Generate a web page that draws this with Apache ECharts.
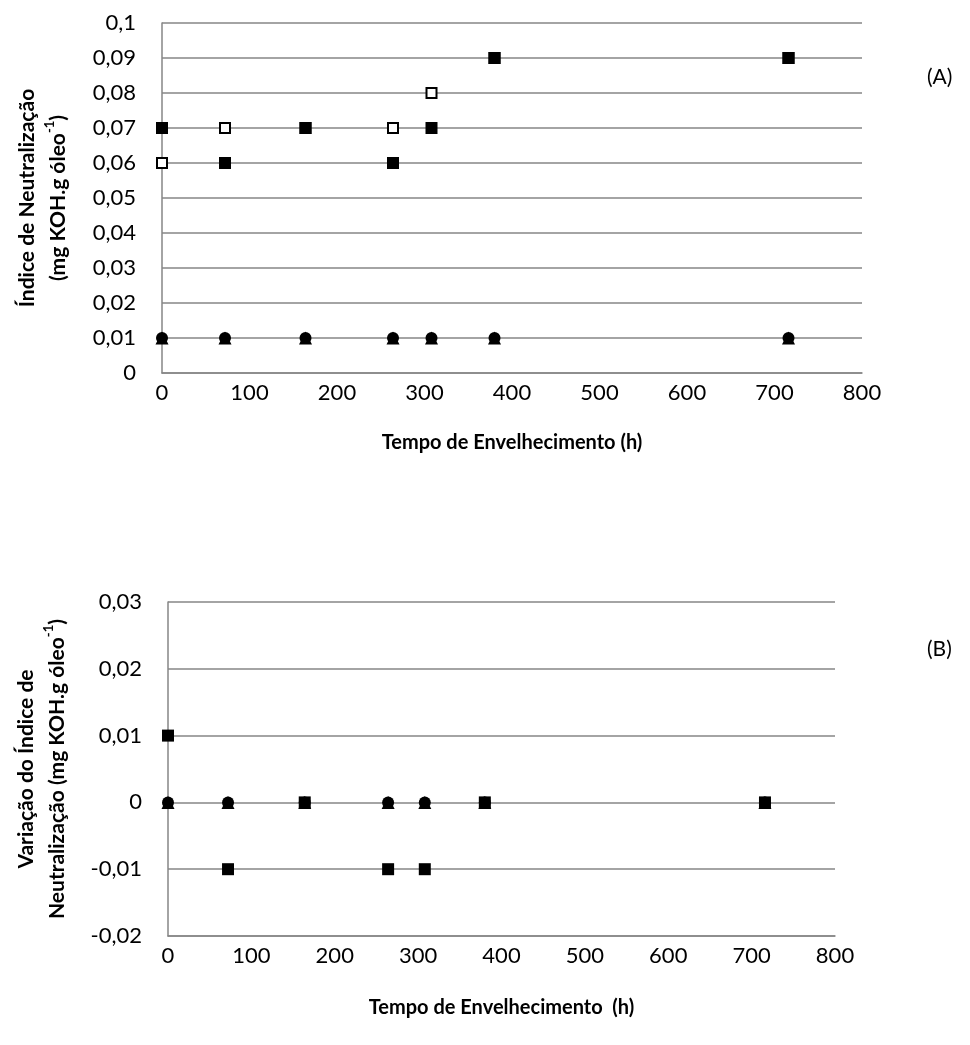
<!DOCTYPE html>
<html>
<head>
<meta charset="utf-8">
<script src="https://cdn.jsdelivr.net/npm/echarts@6/dist/echarts.min.js"></script>
<style>
  html, body { margin: 0; padding: 0; background: #fff; }
  #chart { width: 970px; height: 1045px; }
</style>
</head>
<body>
<div id="chart"></div>
<script>
// Ageing time (h) at each sampling point
const hours = [0, 72, 164, 264, 308, 380, 716];

// (A) Neutralization index, mg KOH/g oil
const indexFilledSquare = [0.07, 0.06, 0.07, 0.06, 0.07, 0.09, 0.09];
const indexOpenSquare   = [0.06, 0.07, 0.07, 0.07, 0.08, 0.09, 0.09];
const indexTriangle     = [0.01, 0.01, 0.01, 0.01, 0.01, 0.01, 0.01];
const indexCircle       = [0.01, 0.01, 0.01, 0.01, 0.01, 0.01, 0.01];

// (B) Variation of the neutralization index
const deltaSquare   = [0.01, -0.01, 0, -0.01, -0.01, 0, 0];
const deltaTriangle = [0, 0, 0, 0, 0, 0, 0];
const deltaCircle   = [0, 0, 0, 0, 0, 0, 0];

// Axis ranges and tick steps
const xTicks = { min: 0, max: 800, interval: 100 };
const yTicksA = { min: 0, max: 0.1, interval: 0.01 };
const yTicksB = { min: -0.02, max: 0.03, interval: 0.01 };

const FONT = 'Lato, "Open Sans", sans-serif';
const GRAY = '#868686';

const pairs = ys => hours.map((h, i) => [h, ys[i]]);
const decimal = v => {
  const n = parseFloat(v.toFixed(2));
  return String(n).replace('.', ',');
};

const xAxisBase = (gridIndex, gap, name) => ({
  gridIndex,
  type: 'value',
  min: xTicks.min, max: xTicks.max, interval: xTicks.interval,
  axisLine: { show: true, onZero: false, lineStyle: { color: GRAY, width: 1.5 } },
  axisTick: { show: false },
  splitLine: { show: false },
  axisLabel: { margin: 9, color: '#000', fontFamily: FONT, fontSize: 22 },
  name,
  nameLocation: 'middle',
  nameGap: gap,
  nameTextStyle: { color: '#000', fontFamily: FONT, fontSize: 20, fontWeight: 'bold' }
});

const titleRich = {
  b: { fontFamily: FONT, fontSize: 21, fontWeight: 'bold', color: '#000', lineHeight: 31 },
  s: { fontFamily: FONT, fontSize: 13, fontWeight: 'bold', color: '#000', lineHeight: 31, verticalAlign: 'top' }
};

const yAxisBase = (gridIndex, ticks, name, gap) => ({
  gridIndex,
  type: 'value',
  min: ticks.min, max: ticks.max, interval: ticks.interval,
  axisLine: { show: true, onZero: false, lineStyle: { color: GRAY, width: 1.5 } },
  axisTick: { show: false },
  splitLine: { show: true, lineStyle: { color: GRAY, width: 1.5 } },
  axisLabel: { margin: 26, color: '#000', fontFamily: FONT, fontSize: 22, formatter: decimal },
  name,
  nameLocation: 'middle',
  nameRotate: 90,
  nameGap: gap,
  nameTextStyle: { rich: titleRich }
});

const filledSquare = (data, xi) => ({
  type: 'scatter', xAxisIndex: xi, yAxisIndex: xi, data: pairs(data),
  symbol: 'rect', symbolSize: 12, z: 5,
  itemStyle: { color: '#000', opacity: 1 }
});
const openSquare = (data, xi) => ({
  type: 'scatter', xAxisIndex: xi, yAxisIndex: xi, data: pairs(data),
  symbol: 'rect', symbolSize: 10, z: 4,
  itemStyle: { color: '#fff', borderColor: '#000', borderWidth: 2, opacity: 1 }
});
const triangle = (data, xi) => ({
  type: 'scatter', xAxisIndex: xi, yAxisIndex: xi, data: pairs(data),
  symbol: 'triangle', symbolSize: 13, z: 2,
  itemStyle: { color: '#000', opacity: 1 }
});
const circle = (data, xi) => ({
  type: 'scatter', xAxisIndex: xi, yAxisIndex: xi, data: pairs(data),
  symbol: 'circle', symbolSize: 12, z: 3,
  itemStyle: { color: '#000', opacity: 1 }
});

const chart = echarts.init(document.getElementById('chart'), null, { renderer: 'canvas' });
chart.setOption({
  backgroundColor: '#fff',
  animation: false,
  grid: [
    { left: 162, top: 23, width: 700, height: 350 },
    { left: 168, top: 602, width: 667, height: 334 }
  ],
  xAxis: [
    xAxisBase(0, 60, 'Tempo de Envelhecimento (h)'),
    xAxisBase(1, 62, 'Tempo de Envelhecimento  (h)')
  ],
  yAxis: [
    yAxisBase(0, yTicksA, '{b|Índice de Neutralização}\n{b|(mg KOH.g óleo}{s|-1}{b|)}', 88),
    yAxisBase(1, yTicksB, '{b|Variação do Índice de}\n{b|Neutralização (mg KOH.g óleo}{s|-1}{b|)}', 95)
  ],
  graphic: [
    { type: 'text', left: 927, top: 67, style: { text: '(A)', fontFamily: FONT, fontSize: 21, fill: '#000' } },
    { type: 'text', left: 927, top: 639, style: { text: '(B)', fontFamily: FONT, fontSize: 21, fill: '#000' } }
  ],
  series: [
    triangle(indexTriangle, 0),
    circle(indexCircle, 0),
    openSquare(indexOpenSquare, 0),
    filledSquare(indexFilledSquare, 0),
    triangle(deltaTriangle, 1),
    circle(deltaCircle, 1),
    filledSquare(deltaSquare, 1)
  ]
});
</script>
</body>
</html>
